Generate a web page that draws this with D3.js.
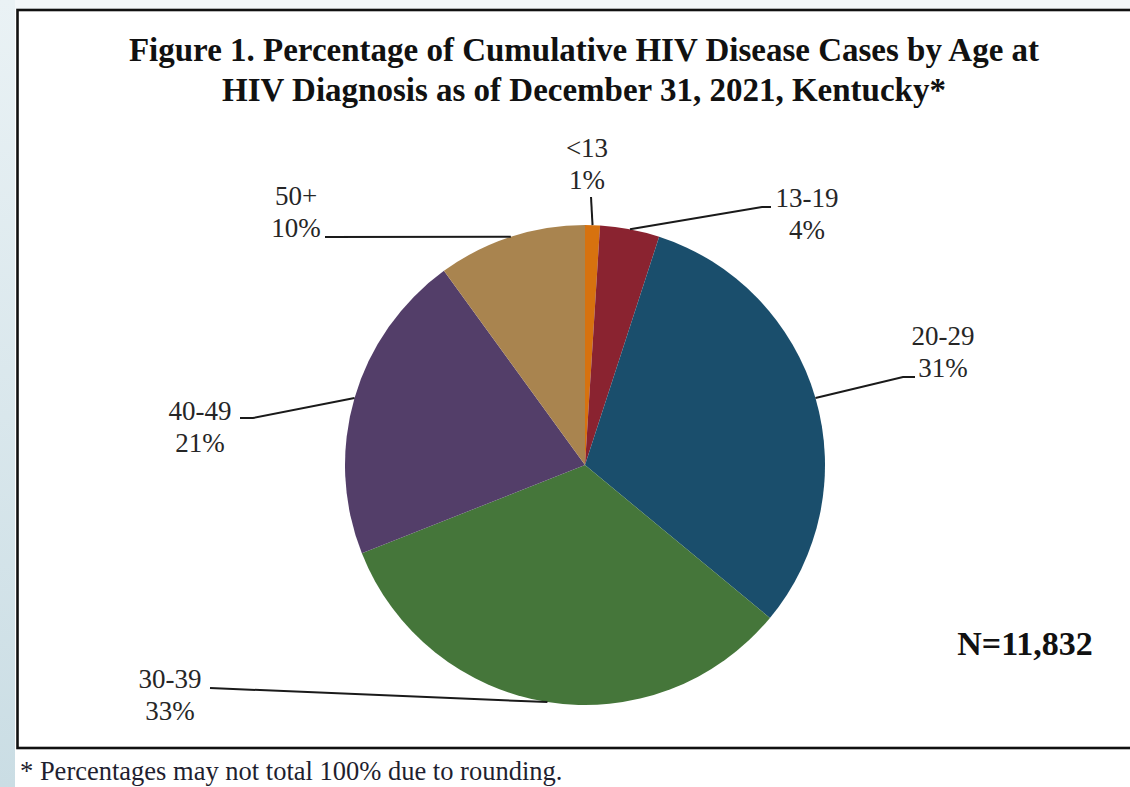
<!DOCTYPE html>
<html>
<head>
<meta charset="utf-8">
<script src="https://cdn.jsdelivr.net/npm/d3@7/dist/d3.min.js"></script>
<style>
  html, body { margin: 0; padding: 0; background: #ffffff; }
  svg { display: block; }
  text { font-family: "Liberation Serif", "Times New Roman", serif; }
</style>
</head>
<body>
<svg id="chart" width="1130" height="787"></svg>
<script>
// ---- data ----
const categories = ["<13", "13-19", "20-29", "30-39", "40-49", "50+"];
const percents   = [1, 4, 31, 33, 21, 10];
const colors     = ["#D7720F", "#8A2330", "#1A4E6C", "#45763A", "#533E69", "#A9844F"];
const titleLines = ["Figure 1. Percentage of Cumulative HIV Disease Cases by Age at",
                    "HIV Diagnosis as of December 31, 2021, Kentucky*"];
const totalLabel = "N=11,832";
const footnote   = "* Percentages may not total 100% due to rounding.";

// ---- layout (label anchor positions, not data) ----
// tx,ty: label centre / first baseline; lx,ly: leader knee; hx: end of short horizontal
const labelLayout = [
  { tx: 587, ty: 157, lx: 591, ly: 197, hx: null },
  { tx: 807, ty: 207, lx: 762, ly: 207, hx: 771 },
  { tx: 943, ty: 345, lx: 903, ly: 377, hx: 915 },
  { tx: 170, ty: 688, lx: 210, ly: 688, hx: null },
  { tx: 200, ty: 420, lx: 253, ly: 418, hx: 240 },
  { tx: 296, ty: 205, lx: 325, ly: 237, hx: null }
];

const W = 1130, H = 787;
const svg = d3.select("#chart");

// background band on left + top strip
const defs = svg.append("defs");
const grad = defs.append("linearGradient").attr("id", "bandGrad")
  .attr("x1", 0).attr("y1", 0).attr("x2", 0).attr("y2", 1);
grad.append("stop").attr("offset", "0%").attr("stop-color", "#eaf2f5");
grad.append("stop").attr("offset", "100%").attr("stop-color", "#cadde4");
svg.append("rect").attr("x", 0).attr("y", 0).attr("width", W).attr("height", 9).attr("fill", "#f3f7f9");
svg.append("rect").attr("x", 0).attr("y", 0).attr("width", 15).attr("height", H).attr("fill", "url(#bandGrad)");

// chart frame
svg.append("rect").attr("x", 17.5).attr("y", 10).attr("width", W + 10).attr("height", 738)
  .attr("fill", "#ffffff").attr("stroke", "#111").attr("stroke-width", 2.6);

// title
titleLines.forEach((t, i) => {
  svg.append("text").attr("x", 584).attr("y", 61 + i * 40).attr("text-anchor", "middle")
    .attr("fill", "#111").style("font-weight", "bold").style("font-size", "33px").text(t);
});

// pie
const cx = 585, cy = 465, R = 240;
const data = categories.map((c, i) => ({ cat: c, value: percents[i], color: colors[i], lay: labelLayout[i] }));
const pie = d3.pie().value(d => d.value).sort(null);
const arc = d3.arc().innerRadius(0).outerRadius(R);
const arcs = pie(data);
const g = svg.append("g").attr("transform", `translate(${cx},${cy})`);
g.selectAll("path").data(arcs).join("path")
  .attr("d", arc).attr("fill", d => d.data.color);

// leader lines + labels
arcs.forEach(a => {
  const mid = (a.startAngle + a.endAngle) / 2;
  const px = cx + R * Math.sin(mid), py = cy - R * Math.cos(mid);
  const L = a.data.lay;
  const pts = [[px, py], [L.lx, L.ly]];
  if (L.hx !== null) pts.push([L.hx, L.ly]);
  svg.append("path").attr("d", d3.line()(pts)).attr("fill", "none")
    .attr("stroke", "#1a1a1a").attr("stroke-width", 2);
  svg.append("text").attr("x", L.tx).attr("y", L.ty).attr("text-anchor", "middle")
    .attr("fill", "#262626").style("font-size", "27px").text(a.data.cat);
  svg.append("text").attr("x", L.tx).attr("y", L.ty + 32).attr("text-anchor", "middle")
    .attr("fill", "#262626").style("font-size", "27px").text(a.data.value + "%");
});

// N label
svg.append("text").attr("x", 1025).attr("y", 655).attr("text-anchor", "middle")
  .attr("fill", "#111").style("font-weight", "bold").style("font-size", "34px").text(totalLabel);

// footnote
svg.append("text").attr("x", 20).attr("y", 780).attr("fill", "#1f1f30")
  .style("font-size", "26.5px").text(footnote);
</script>
</body>
</html>
